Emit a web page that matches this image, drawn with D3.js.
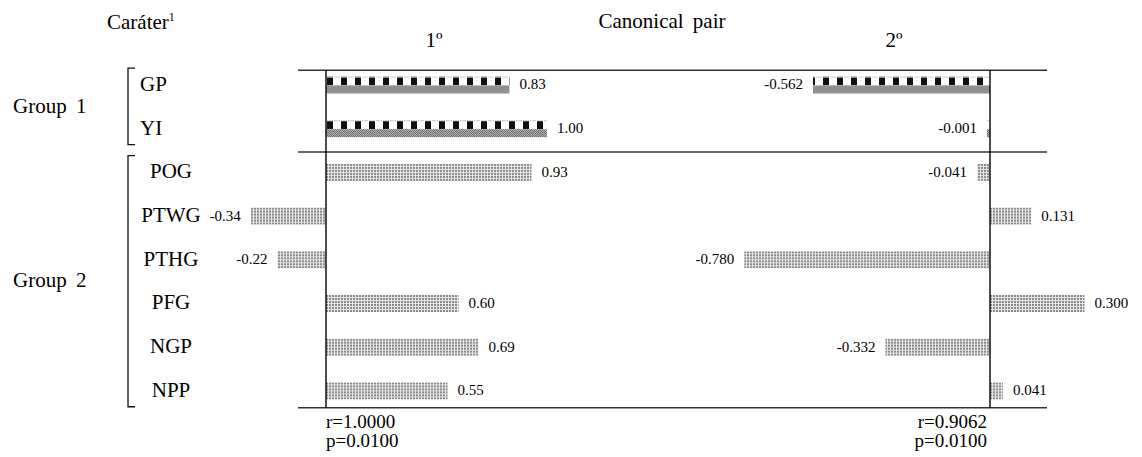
<!DOCTYPE html>
<html>
<head>
<meta charset="utf-8">
<script src="https://cdn.jsdelivr.net/npm/d3@7"></script>
<style>
  body { margin: 0; background: #fff; }
  svg { display: block; font-family: "Liberation Serif", "Times New Roman", serif; }
</style>
</head>
<body>
<svg id="chart" width="1142" height="457"></svg>
<script>
// data
var traits = ["GP", "YI", "POG", "PTWG", "PTHG", "PFG", "NGP", "NPP"];
var group1 = ["GP", "YI"];
var group2 = ["POG", "PTWG", "PTHG", "PFG", "NGP", "NPP"];
var groupNames = ["Group 1", "Group 2"];
var pairNames = ["1º", "2º"];
var pair1 = [0.83, 1.00, 0.93, -0.34, -0.22, 0.60, 0.69, 0.55];
var pair2 = [-0.562, -0.001, -0.041, 0.131, -0.780, 0.300, -0.332, 0.041];
var rValues = [1.0000, 0.9062];
var pValues = [0.0100, 0.0100];

var svg = d3.select("#chart");

// patterns
var defs = svg.append("defs");
var sq = defs.append("pattern").attr("id", "squares")
  .attr("patternUnits", "userSpaceOnUse").attr("width", 14).attr("height", 9);
sq.append("rect").attr("width", 14).attr("height", 9).attr("fill", "#fff");
sq.append("rect").attr("x", 1).attr("y", 1).attr("width", 6).attr("height", 8).attr("fill", "#111");
sq.append("rect").attr("x", 8).attr("y", 0).attr("width", 6).attr("height", 1).attr("fill", "#bbb");

var chk = defs.append("pattern").attr("id", "checker")
  .attr("patternUnits", "userSpaceOnUse").attr("width", 2).attr("height", 2);
chk.append("rect").attr("width", 2).attr("height", 2).attr("fill", "#c0c0c0");
chk.append("rect").attr("width", 1).attr("height", 1).attr("fill", "#606060");
chk.append("rect").attr("x", 1).attr("y", 1).attr("width", 1).attr("height", 1).attr("fill", "#606060");

var dots = defs.append("pattern").attr("id", "dots")
  .attr("patternUnits", "userSpaceOnUse").attr("width", 3).attr("height", 3);
dots.append("rect").attr("width", 3).attr("height", 3).attr("fill", "#e6e6e6");
dots.append("rect").attr("width", 2).attr("height", 2).attr("fill", "#8a8a8a");

// scales
var y = d3.scaleBand().domain(traits).range([63.15, 412.75]);
var step = y.step();
var barH = 17;
var x1 = d3.scaleLinear().domain([0, 1]).range([326, 547]);
var x2 = d3.scaleLinear().domain([0, 1]).range([990, 1305]);

var topY = y.range()[0] + 7;
var midY = y("POG") + 1.5;
var botY = y.range()[1] - 5;

// frame lines
svg.selectAll(".hline").data([topY, midY, botY]).enter().append("line")
  .attr("x1", 298).attr("x2", 1047)
  .attr("y1", function (d) { return d; }).attr("y2", function (d) { return d; })
  .attr("stroke", "#333").attr("stroke-width", 1.5);

// bars
function drawBars(values, x, decimals) {
  var g = svg.append("g");
  var bars = g.selectAll("g").data(values).enter().append("g")
    .attr("transform", function (d, i) {
      return "translate(" + x(0) + "," + (y(traits[i]) + (step - barH) / 2) + ")";
    });
  bars.each(function (d, i) {
    var b = d3.select(this);
    var bw = Math.max(Math.abs(x(d) - x(0)), 3);
    var bx = d < 0 ? -bw : 0;
    if (group1.indexOf(traits[i]) >= 0) {
      b.append("rect").attr("x", bx).attr("y", 0).attr("width", bw).attr("height", 9)
        .attr("fill", "url(#squares)");
      b.append("rect").attr("x", bx).attr("y", 9).attr("width", bw).attr("height", 8)
        .attr("fill", "url(#checker)");
    } else {
      b.append("rect").attr("x", bx).attr("y", 0).attr("width", bw).attr("height", barH)
        .attr("fill", "url(#dots)");
    }
    b.append("text")
      .attr("x", d < 0 ? bx - 10 : bx + bw + 10)
      .attr("y", barH / 2 + 1)
      .attr("dominant-baseline", "middle")
      .attr("text-anchor", d < 0 ? "end" : "start")
      .attr("font-size", 15)
      .text(d.toFixed(decimals));
  });
}
drawBars(pair1, x1, 2);
drawBars(pair2, x2, 3);

// axes (zero lines)
svg.selectAll(".vline").data([x1(0), x2(0)]).enter().append("line")
  .attr("x1", function (d) { return d; }).attr("x2", function (d) { return d; })
  .attr("y1", topY).attr("y2", botY)
  .attr("stroke", "#111").attr("stroke-width", 1.5);

// row labels
svg.selectAll(".trait").data(traits).enter().append("text")
  .attr("x", function (d) { return group1.indexOf(d) >= 0 ? 140 : 171; })
  .attr("y", function (d) { return y(d) + step / 2 + 1; })
  .attr("dominant-baseline", "middle")
  .attr("text-anchor", function (d) { return group1.indexOf(d) >= 0 ? "start" : "middle"; })
  .attr("font-size", 21)
  .text(function (d) { return d; });

// brackets and group labels
var groups = [group1, group2];
groups.forEach(function (grp, gi) {
  var y0 = y(grp[0]) + 5;
  var y1 = y(grp[grp.length - 1]) + step - 6;
  svg.append("path")
    .attr("d", "M135," + y0 + "H128V" + y1 + "H135")
    .attr("fill", "none").attr("stroke", "#111").attr("stroke-width", 1.3);
  svg.append("text")
    .attr("x", 13)
    .attr("y", (y(grp[0]) + y(grp[grp.length - 1]) + step) / 2 + 1)
    .attr("dominant-baseline", "middle")
    .attr("font-size", 21)
    .attr("word-spacing", 4)
    .text(groupNames[gi]);
});

// headers
var head = svg.append("text").attr("x", 107).attr("y", 29).attr("font-size", 21);
head.append("tspan").text("Caráter");
head.append("tspan").attr("font-size", 12).attr("dy", -8).text("1");

svg.append("text").attr("x", 662).attr("y", 28).attr("text-anchor", "middle")
  .attr("font-size", 21).attr("word-spacing", 4).text("Canonical pair");

svg.selectAll(".pair").data(pairNames).enter().append("text")
  .attr("x", function (d, i) { return i === 0 ? x1(0) + 108 : x2(0) - 96; })
  .attr("y", 47).attr("text-anchor", "middle").attr("font-size", 21)
  .text(function (d) { return d; });

// correlation stats
var statX = function (d, i) { return i === 0 ? x1(0) : x2(0) - 3; };
var stats = svg.selectAll(".stat").data(rValues).enter().append("g");
stats.append("text")
  .attr("x", statX).attr("y", 428)
  .attr("text-anchor", function (d, i) { return i === 0 ? "start" : "end"; })
  .attr("font-size", 19)
  .text(function (d) { return "r=" + d.toFixed(4); });
stats.append("text")
  .attr("x", statX).attr("y", 447)
  .attr("text-anchor", function (d, i) { return i === 0 ? "start" : "end"; })
  .attr("font-size", 19)
  .text(function (d, i) { return "p=" + pValues[i].toFixed(4); });
</script>
</body>
</html>
